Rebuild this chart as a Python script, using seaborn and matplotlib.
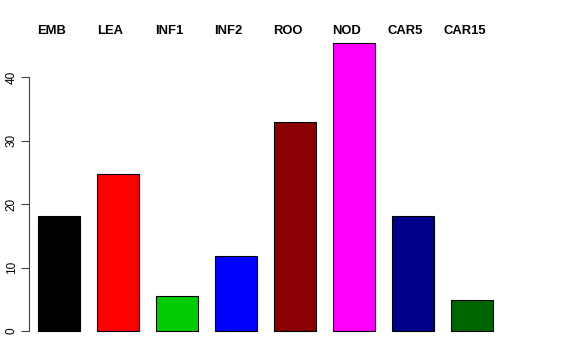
import matplotlib
matplotlib.use("Agg")
import matplotlib.pyplot as plt
import seaborn as sns
import pandas as pd

categories = ["EMB", "LEA", "INF1", "INF2", "ROO", "NOD", "CAR5", "CAR15"]
values = [18.1, 24.8, 5.5, 11.8, 33.0, 45.4, 18.1, 4.9]
colors = ["#000000", "#FF0000", "#00CD00", "#0000FF", "#8B0000", "#FF00FF", "#00008B", "#006400"]
yticks = [0, 10, 20, 30, 40]

sns.set_style("white")
plt.rcParams['font.family'] = ['Liberation Sans', 'DejaVu Sans']
plt.rcParams['text.color'] = 'black'
plt.rcParams['ytick.color'] = 'black'

df = pd.DataFrame({"cat": categories, "val": values})

fig = plt.figure(figsize=(5.76, 3.6), dpi=100)
ax = fig.add_axes([29/576, 15/360, (560-29)/576, 330/360])

sns.barplot(data=df, x="cat", y="val", hue="cat", palette=colors, legend=False,
            width=0.714, edgecolor="black", linewidth=0.8, saturation=1, ax=ax)

ax.set_xlim(-0.508, 8.49)
ax.set_ylim(-2.21, 49.84)
ax.set_xlabel("")
ax.set_ylabel("")
ax.set_xticks([])
ax.set_yticks(yticks)
ax.set_yticklabels([str(t) for t in yticks], rotation=90, va="center", fontsize=8.5, color="black")
ax.tick_params(axis="y", direction="out", length=6, width=0.8, color="#444444", pad=2, left=True)
for s in ["top", "right", "bottom"]:
    ax.spines[s].set_visible(False)
ax.spines["left"].set_bounds(0, 40)
ax.spines["left"].set_color("#444444")
ax.spines["left"].set_linewidth(0.8)

for i, c in enumerate(categories):
    ax.text(i - 0.13, 47.3, c, ha="center", va="center", fontsize=9.4,
            fontweight="bold", color="black")

fig.savefig("out.png", dpi=100)
